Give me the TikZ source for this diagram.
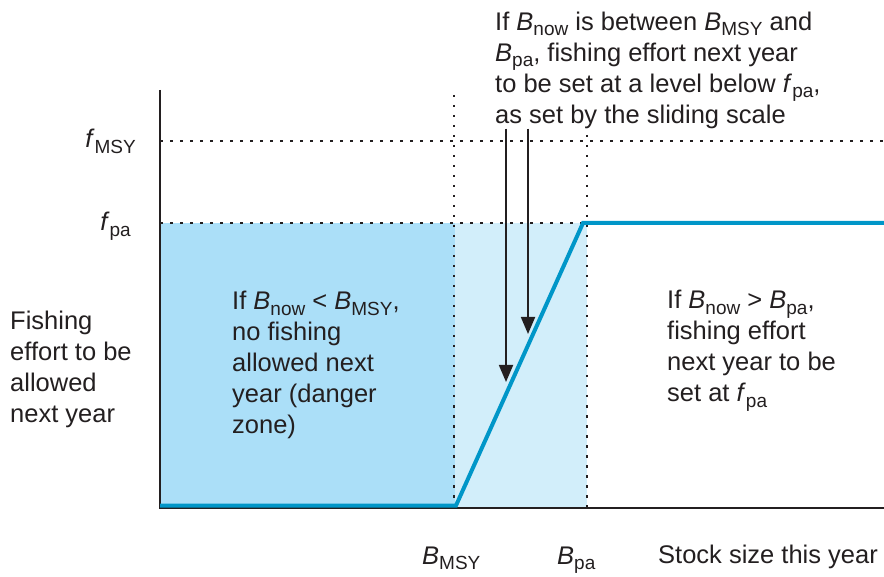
\documentclass[tikz,border=0pt]{standalone}
\usepackage{fontspec}
\setmainfont{Liberation Sans}
\usetikzlibrary{arrows.meta}
\definecolor{dangerblue}{RGB}{171,223,248}
\definecolor{slideblue}{RGB}{210,238,250}
\definecolor{rulecol}{RGB}{0,150,200}
\definecolor{inkgray}{RGB}{35,31,32}
\newcommand{\lbl}[2]{\textit{#1}\raisebox{-5.5pt}{\fontsize{19}{19}\selectfont #2}}
\tikzset{
  txt/.style={font=\fontsize{25.5}{31}\selectfont, text=inkgray, inner sep=0pt, align=left},
  guide/.style={inkgray, line width=1.1pt, dash pattern=on 2.5pt off 7.5pt},
  axisline/.style={inkgray, line width=1.3pt},
  pointer/.style={inkgray, line width=1.8pt, -{Triangle[length=17pt, width=14pt]}}
}
\begin{document}
\begin{tikzpicture}[x=1pt, y=-1pt]
  \useasboundingbox (0,0) rectangle (884,577);

  % shaded zones
  \fill[dangerblue] (160,223) rectangle (455,508);
  \fill[slideblue] (455,223) rectangle (587,508);

  % reference levels
  \draw[guide] (160,141) -- (884,141);
  \draw[guide] (160,223) -- (884,223);
  \draw[guide] (454,95) -- (454,508);
  \draw[guide] (587,125) -- (587,508);

  % axes
  \draw[axisline] (160,90) -- (160,508) -- (884,508);

  % harvest control rule
  \draw[rulecol, line width=4pt, line join=miter]
    (160,505.5) -- (456,505.5) -- (583,223) -- (884,223);

  % axis labels
  \node[txt, anchor=north west] (ylab) at (10,310.4) {Fishing\\effort to be\\allowed\\next year};
  \node[txt, anchor=base east] (fmsy) at (136,148) {\lbl{f}{MSY}};
  \node[txt, anchor=base east] (fpa) at (131,231) {\lbl{f}{pa}};
  \node[txt, anchor=base west] (bmsy) at (422,564) {\lbl{B}{MSY}};
  \node[txt, anchor=base west] (bpa) at (557,564) {\lbl{B}{pa}};
  \node[txt, anchor=base west] (xlab) at (658,563) {Stock size this year};

  % zone notes
  \node[txt, anchor=north west] (lownote) at (232,291)
    {If \lbl{B}{now} < \lbl{B}{MSY},\\no fishing\\allowed next\\year (danger\\zone)};
  \node[txt, anchor=north west] (highnote) at (667,290)
    {If \lbl{B}{now} > \lbl{B}{pa},\\fishing effort\\next year to be\\set at \lbl{f}{pa}};
  \node[txt, anchor=north west, fill=white] (slidenote) at (495,11.4)
    {If \lbl{B}{now} is between \lbl{B}{MSY} and\\\lbl{B}{pa}, fishing effort next year\\to be set at a level below \lbl{f}{pa},\\as set by the sliding scale};

  % pointers onto the sliding scale
  \coordinate (tipa) at (506,382);
  \coordinate (tipb) at (528,334);
  \draw[pointer] (slidenote.south -| tipa) -- (tipa);
  \draw[pointer] (slidenote.south -| tipb) -- (tipb);
\end{tikzpicture}
\end{document}
